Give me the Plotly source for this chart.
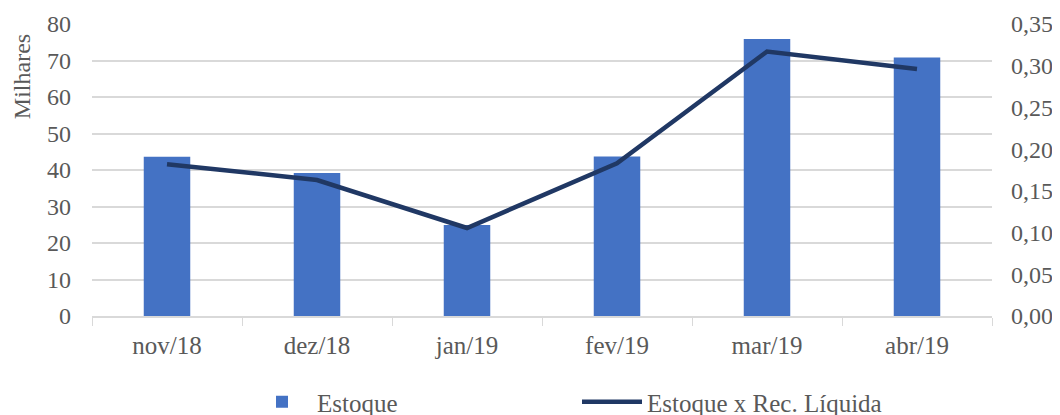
import plotly.graph_objects as go

categories = ["nov/18", "dez/18", "jan/19", "fev/19", "mar/19", "abr/19"]
estoque = [43.6, 39.2, 24.9, 43.7, 75.9, 70.8]
estoque_rec = [0.182, 0.163, 0.1055, 0.183, 0.317, 0.296]

font_family = "Liberation Serif"
grey = "#595959"
grid = "#d9d9d9"

W, H = 1052, 407  # page body has an 8px margin

fig = go.Figure()
fig.add_trace(go.Bar(
    x=categories, y=estoque, name="Estoque",
    marker=dict(color="#4472C4", line=dict(width=0)),
    width=0.31, yaxis="y"))
fig.add_trace(go.Scatter(
    x=categories, y=estoque_rec, name="Estoque x Rec. Líquida",
    mode="lines", line=dict(color="#203864", width=4.5), yaxis="y2"))

fig.update_layout(
    width=W, height=H,
    margin=dict(l=84, r=68, t=16, b=99, autoexpand=False),
    paper_bgcolor="white", plot_bgcolor="white",
    separators=",.",
    font=dict(family=font_family, size=24, color=grey),
    showlegend=True,
    legend=dict(orientation="h", xref="container", yref="container",
                x=239 / W, xanchor="left", y=13 / H, yanchor="middle",
                font=dict(size=25, color=grey), entrywidth=255, itemwidth=60),
    xaxis=dict(showgrid=False, showline=True, linecolor=grid, linewidth=1.5,
               ticks="outside", tickson="boundaries", ticklen=8, tickcolor=grid,
               tickfont=dict(size=25, color=grey), ticklabelstandoff=6),
    yaxis=dict(range=[0, 80], dtick=10, showgrid=True, gridcolor=grid, gridwidth=1.5,
               zeroline=False, showline=False, ticks="", tickfont=dict(size=24, color=grey),
               ticklabelstandoff=20),
    yaxis2=dict(range=[0, 0.35], dtick=0.05, tickformat=".2f", overlaying="y", side="right",
                showgrid=False, zeroline=False, showline=False, ticks="",
                ticklabelstandoff=18, tickfont=dict(size=24, color=grey)),
    annotations=[dict(text="Milhares", textangle=-90, showarrow=False,
                      xref="paper", yref="paper", x=-70 / 900, y=0.818,
                      xanchor="center", yanchor="middle",
                      font=dict(size=24, color=grey))],
)

fig.write_html("out.html")
